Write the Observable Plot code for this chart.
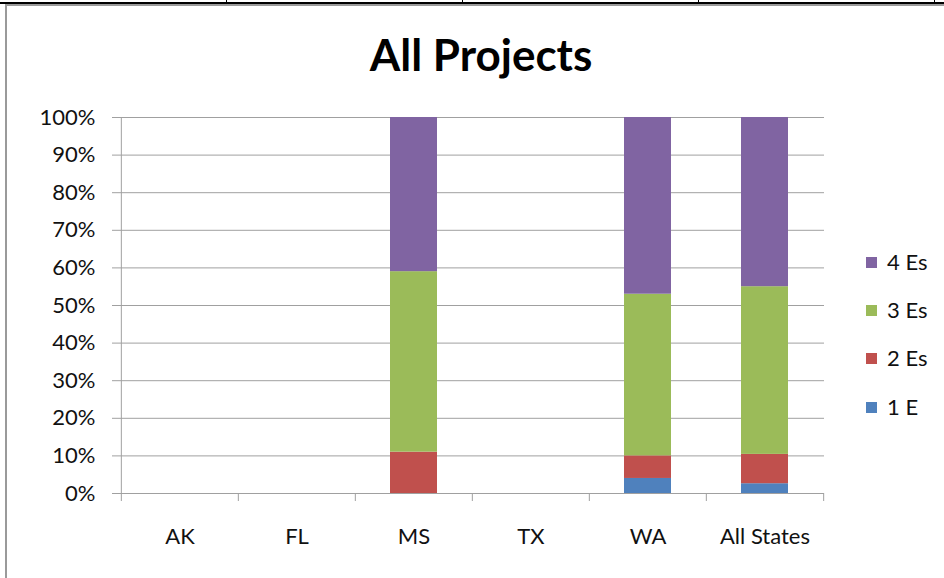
<!DOCTYPE html>
<html><head><meta charset="utf-8">
<script src="https://cdn.jsdelivr.net/npm/d3@7"></script>
<script src="https://cdn.jsdelivr.net/npm/@observablehq/plot@0.6"></script>
<style>
body{margin:0;background:#fff;font-family:Lato, "Open Sans", sans-serif;}
#wrap{position:relative;width:944px;height:578px;overflow:hidden;background:#fff;}
.ln{position:absolute;}
#title{position:absolute;left:481px;top:32px;transform:translateX(-50%);font-size:44px;line-height:44px;font-weight:bold;color:#000;white-space:nowrap;}
#chart{position:absolute;left:0;top:100px;}
.leg{position:absolute;left:866px;height:22px;display:flex;align-items:center;font-size:22px;line-height:22px;color:#111;white-space:nowrap;}
.leg .sw{width:11px;height:11px;margin-right:10px;}
</style></head><body>
<div id="wrap">
  <div class="ln" style="left:0;top:2px;width:944px;height:2px;background:#000"></div>
  <div class="ln" style="left:226px;top:0;width:1px;height:3px;background:#000"></div>
  <div class="ln" style="left:462px;top:0;width:1px;height:3px;background:#000"></div>
  <div class="ln" style="left:698px;top:0;width:1px;height:3px;background:#000"></div>
  <div class="ln" style="left:934px;top:0;width:1px;height:3px;background:#000"></div>
  <div class="ln" style="left:5px;top:4px;width:939px;height:2px;background:#9a9a9a"></div>
  <div class="ln" style="left:5px;top:4px;width:2px;height:574px;background:#9a9a9a"></div>
  <div id="title">All Projects</div>
  <div id="chart"></div>
  <div id="legend"></div>
</div>
<script>
const states = ["AK", "FL", "MS", "TX", "WA", "All States"];
const series = ["1 E", "2 Es", "3 Es", "4 Es"];
const colors = ["#4F81BD", "#C0504D", "#9BBB59", "#8064A2"];
const oneE    = [0, 0, 0,    0, 0.04, 0.026];
const twoEs   = [0, 0, 0.11, 0, 0.06, 0.078];
const threeEs = [0, 0, 0.48, 0, 0.43, 0.446];
const fourEs  = [0, 0, 0.41, 0, 0.47, 0.45];
const yTicks = [0, 0.1, 0.2, 0.3, 0.4, 0.5, 0.6, 0.7, 0.8, 0.9, 1];

const seriesValues = [oneE, twoEs, threeEs, fourEs];
const data = [];
series.forEach((s, si) => states.forEach((st, i) => data.push({state: st, series: s, value: seriesValues[si][i]})));

const W = 944, H = 478, mL = 120, mR = 120, mT = 17, mB = 85;
const step = (W - mL - mR) / states.length;
const axisColor = "#a0a0a0";

const chart = Plot.plot({
  width: W, height: H,
  marginLeft: mL, marginRight: mR, marginTop: mT, marginBottom: mB,
  style: {fontFamily: "Lato, 'Open Sans', sans-serif", fontSize: "22px", color: "#111", background: "transparent", overflow: "visible"},
  x: {domain: states, paddingInner: 0.6, paddingOuter: 0.3, label: null},
  y: {domain: [0, 1], label: null},
  color: {domain: series, range: colors},
  marks: [
    Plot.gridY(yTicks, {stroke: axisColor, strokeOpacity: 1}),
    Plot.barY(data, {x: "state", y: "value", fill: "series"}),
    Plot.ruleX([states[0]], {dx: -step / 2, stroke: axisColor}),
    Plot.ruleY([0], {stroke: axisColor}),
    Plot.ruleX(states, {y1: 0, y2: 0, insetBottom: -8, dx: -step / 2, stroke: axisColor}),
    Plot.ruleX([states[states.length - 1]], {y1: 0, y2: 0, insetBottom: -8, dx: step / 2, stroke: axisColor}),
    Plot.axisY(yTicks, {tickSize: 8, tickPadding: 17, tickFormat: d3.format(".0%"), stroke: axisColor, fill: "#111", fontSize: 22, label: null}),
    Plot.axisX({tickSize: 0, tickPadding: 35, fill: "#111", fontSize: 22, label: null})
  ]
});
document.getElementById("chart").appendChild(chart);

const legend = document.getElementById("legend");
const legendCenters = [407, 358, 310, 262];
series.forEach((s, i) => {
  const row = document.createElement("div");
  row.className = "leg";
  row.style.top = (legendCenters[i] - 11) + "px";
  row.innerHTML = `<div class="sw" style="background:${colors[i]}"></div><span>${s}</span>`;
  legend.appendChild(row);
});
</script>
</body></html>
